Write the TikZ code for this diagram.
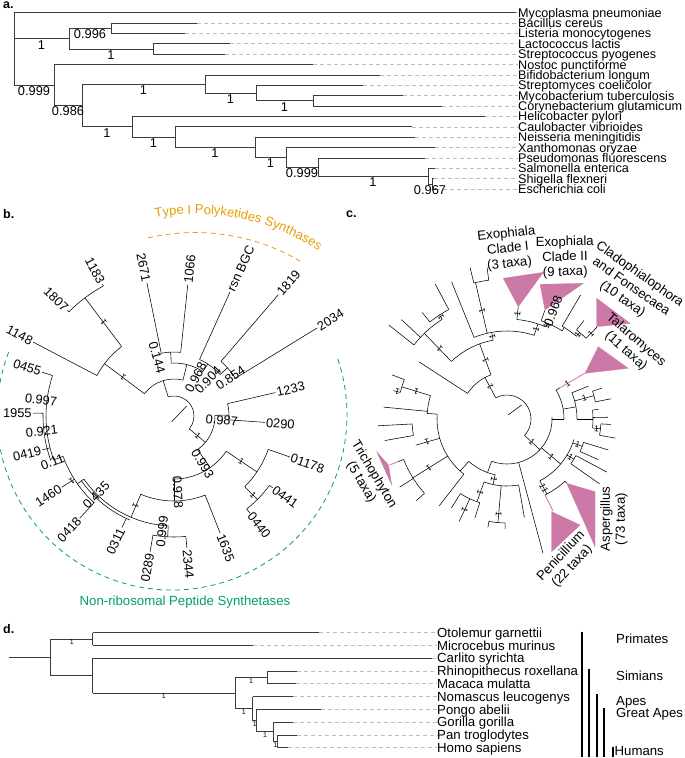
\documentclass[tikz,border=0pt]{standalone}
\usepackage{fontspec}
\setmainfont{Liberation Sans}
\usetikzlibrary{decorations.text}
\definecolor{pksorange}{HTML}{E69F00}
\definecolor{nrpsgreen}{HTML}{009E73}
\definecolor{clpink}{HTML}{CC79A7}
\definecolor{treegray}{HTML}{3C3C3C}
\definecolor{dashgray}{HTML}{BDBDBD}
\tikzset{
  tl/.style={treegray, line width=0.65pt},
  dl/.style={dashgray, line width=0.6pt, dash pattern=on 4pt off 3pt},
  bl/.style={black, line width=0.55pt},
  taxon/.style={anchor=west, inner sep=0pt, text height=9pt, text depth=0pt, font=\fontsize{12.6}{12.6}\selectfont},
  dtaxon/.style={anchor=west, inner sep=0pt, text height=9.4pt, text depth=0pt, font=\fontsize{13.2}{13.2}\selectfont},
  suplab/.style={anchor=north, inner sep=0pt, font=\fontsize{12.8}{12.8}\selectfont},
  dsup/.style={anchor=north, inner sep=0pt, font=\fontsize{7}{7}\selectfont},
  panel/.style={anchor=base west, inner sep=0pt, font=\bfseries\fontsize{12.5}{12.5}\selectfont},
  bR/.style={anchor=west, inner sep=1.2pt, text height=9.2pt, text depth=0pt, font=\fontsize{12.8}{12.8}\selectfont},
  bL/.style={anchor=east, inner sep=1.2pt, text height=9.2pt, text depth=0pt, font=\fontsize{12.8}{12.8}\selectfont},
  bsup/.style={inner sep=0pt, text height=9.2pt, text depth=0pt, font=\fontsize{12.8}{12.8}\selectfont},
  onetick/.style={inner sep=0pt, font=\fontsize{8.5}{8.5}\selectfont},
  clade/.style={align=center, inner sep=0pt, font=\fontsize{13.2}{15}\selectfont},
  tri/.style={fill=clpink, draw=clpink, line width=0.3pt},
  pinkl/.style={clpink, line width=0.8pt},
  cladebar/.style={black, line width=1.8pt},
}
\begin{document}
\begin{tikzpicture}[x=1pt,y=-1pt]
\useasboundingbox (0,0) rectangle (685,758);

% ================= Panel a =================
\node[panel] (pa) at (3,8.5) {a.};
\foreach \i/\y/\t/\lab in {
 0/12.6/516/Mycoplasma pneumoniae,
 1/23.0/197/Bacillus cereus,
 2/33.4/185/Listeria monocytogenes,
 3/43.7/230/Lactococcus lactis,
 4/54.1/225/Streptococcus pyogenes,
 5/64.5/313/Nostoc punctiforme,
 6/74.9/380/Bifidobacterium longum,
 7/85.3/363/Streptomyces coelicolor,
 8/95.6/403/Mycobacterium tuberculosis,
 9/106.0/442/Corynebacterium glutamicum,
 10/116.4/485/Helicobacter pylori,
 11/126.8/412/Caulobacter vibrioides,
 12/137.2/415/Neisseria meningitidis,
 13/147.5/435/Xanthomonas oryzae,
 14/157.9/425/Pseudomonas fluorescens,
 15/168.3/435/Salmonella enterica,
 16/178.7/434/Shigella flexneri,
 17/189.1/436/Escherichia coli}{
 \node[taxon] (ta\i) at (518,\y) {\lab};
 \coordinate (tipa\i) at (\t,\y);
 \draw[dl] (tipa\i) -- (ta\i.west);
}
\foreach \x/\ya/\yb in {14/12.6/84.9, 69/28.2/48.9, 111/23.0/33.4, 153/43.7/54.1,
  54/64.5/105.35, 82/84.0/126.7, 205/74.9/93.05, 256/85.3/100.8, 313/95.6/106.0,
  132/116.4/137.0, 175/126.8/147.2, 255/137.2/157.25, 286/147.5/167.0,
  318/157.9/176.1, 428/168.3/183.9, 432/178.7/189.1}
  \draw[tl] (\x,\ya) -- (\x,\yb);
\foreach \xa/\xb/\y in {14/516/12.6, 14/69/38.55, 69/111/28.2, 111/197/23.0, 111/185/33.4,
  69/153/48.9, 153/230/43.7, 153/225/54.1, 14/54/84.9, 54/313/64.5, 54/82/105.35,
  82/205/84.0, 205/380/74.9, 205/256/93.05, 256/363/85.3, 256/313/100.8,
  313/403/95.6, 313/442/106.0, 82/132/126.7, 132/485/116.4, 132/175/137.0,
  175/412/126.8, 175/255/147.2, 255/415/137.2, 255/286/157.25, 286/435/147.5,
  286/318/167.0, 318/425/157.9, 318/428/176.1, 428/435/168.3, 428/432/183.9,
  432/434/178.7, 432/436/189.1}
  \draw[tl] (\xa,\y) -- (\xb,\y);
\foreach \x/\y/\s [count=\k] in {41.5/38.55/1, 90/28.2/0.996, 111/48.9/1, 34/84.9/0.999,
  68/105.35/0.986, 143.5/84.0/1, 230.5/93.05/1, 284.5/100.8/1, 107/126.7/1,
  153.5/137.0/1, 215/147.2/1, 270.5/157.25/1, 302/167.0/0.999, 373/176.1/1,
  430/183.9/0.967}
  \node[suplab] (sa\k) at (\x,\y+1.5) {\s};

% ================= Panel b =================
\node[panel] (pb) at (3,218) {b.};
\begin{scope}[shift={(195,440)}, x=1pt, y=1pt]
  \draw[pksorange, line width=0.8pt, dash pattern=on 5pt off 4pt] (103.1:207.5) arc[start angle=103.1, end angle=59.6, radius=207.5];
  \path[decorate, decoration={text along path, text align=center,
     text={|\fontsize{13}{14}\selectfont\color{pksorange}|Type I Polyketides Synthases}}]
     (103:226) arc[start angle=103, end angle=54, radius=226];
\end{scope}
\begin{scope}[shift={(172,415)}, x=1pt, y=1pt]
  \draw[nrpsgreen, line width=0.8pt, dash pattern=on 5pt off 4pt] (159:175) arc[start angle=159, end angle=379.5, radius=175];
\end{scope}
\node[text=nrpsgreen, inner sep=0pt, font=\fontsize{13.2}{13.2}\selectfont] (nrps) at (185,602) {Non-ribosomal Peptide Synthetases};

\begin{scope}[shift={(174,416)}, x=1pt, y=1pt]
  \draw[bl] (-2.3,-5.7) -- (12.7,10);
  \foreach \a/\ri/\ro in {107/20/37, 143/37/87, 127/87/148, 118.5/148/150, 135.3/148/150,
    152.3/87/159, 76/37/53, 93/53/64, 101.5/64/136, 84/64/132, 57/53/62, 65.7/62/136,
    42/62/72, 49.3/72/160, 31.6/72/168, -40/20/41, 1/41/55, 13/55/104, -4/55/91,
    -55/41/63, -34/63/100, -19.5/100/123, -45/100/118, -36/118/122, -52/118/123,
    270/63/85, 291.5/85/126, 247/85/110, 245/113/123, 267/110/121, 260/121/138,
    275.6/121/133, 215/110/118, 227.3/118/139, 212.4/118/133, 200/118/128,
    161.6/128/139, 194.4/128/136, 178.8/131/141}
    \draw[bl] (\a:\ri) -- (\a:\ro);
  \foreach \r/\aa/\ab in {20/107/-40, 37/143/76, 87/127/152.3, 148/118.5/135.3,
    53/93/57, 64/101.5/84, 62/65.7/42, 72/49.3/31.6, 41/1/-55, 55/13/-4, 63/-34/-90,
    100/-19.5/-45, 118/-36/-52, 85/247/291.5, 110/215/267, 113/215/247,
    121/260/275.6, 118/200/227.3, 128/161.6/200, 131/178.8/200}
    \draw[bl] (\aa:\r) arc[start angle=\aa, end angle=\ab, radius=\r];
  \foreach \a/\r/\t [count=\k] in {84/132/1066, 65.7/136/rsn BGC, 49.3/160/1819,
    31.6/168/2034, 13/104/1233, -4/91/0290, -19.5/123/01178, -36/122/0441,
    -52/123/0440, -68.5/126/1635, -84.4/133/2344}
    \node[bR, rotate=\a] (bR\k) at (\a:\r) {\t};
  \foreach \a/\r/\t [count=\k] in {101.5/136/2671, 118.5/150/1183, 135.3/150/1807,
    152.3/159/1148, 161.6/139/0455, 178.8/141/1955, 194.4/136/0419, 212.4/133/1460,
    227.3/139/0418, 245/123/0311, 260/138/0289}
    \node[bL, rotate=\a-180] (bL\k) at (\a:\r) {\t};
  \foreach \a/\r/\rot/\s [count=\k] in {106/61/-74/0.144, 60.8/44/62/0.968,
    46.6/49.5/46.6/0.904, 34/68/34/0.854, -5/48/-5/0.987, -59/56/-59/0.993,
    -87/76/-87/0.978, 264/116/84/0.999, 225.4/111/45.4/0.435, 200.7/130/20.7/0.11,
    186.5/133/6.5/0.921, 173/134/-7/0.997}
    \node[bsup, rotate=\rot] (bs\k) at (\a:\r) {\s};
  \foreach \a/\r [count=\k] in {127/117, 143/64, 212.4/121, 247/98, -40/31, -34/81, -45/112}
    \node[onetick, rotate=\a] (bt\k) at (\a:\r) {1};
\end{scope}

% ================= Panel c =================
\node[panel] (pc) at (346,217) {c.};
\fill[tri] (518.3,306.7) -- (503.3,278.3) -- (543.3,272.3) -- cycle;
\fill[tri] (545,310) -- (540,284.3) -- (583.3,283.3) -- cycle;
\fill[tri] (596.7,326.7) -- (596.7,298.3) -- (630,323.3) -- cycle;
\fill[tri] (585,373.3) -- (598.3,346.7) -- (628.3,368.3) -- cycle;
\fill[tri] (551.7,511.7) -- (580,525) -- (551.7,551.7) -- cycle;
\fill[tri] (566.7,483.3) -- (595,491.7) -- (595,546.7) -- cycle;
\fill[tri] (376.7,451.7) -- (391.7,485) -- (388.5,465) -- cycle;

\begin{scope}[shift={(507,419)}, x=1pt, y=1pt]
  \draw[bl] (1,4) -- (14.7,14);
  \foreach \a/\ri/\ro in {118/24/47, 147/47/105, 110/47/80, 134/80/119, 141.5/119/151,
    136.7/119/145, 123/119/124, 118/124/153, 128.5/124/136, 100/80/88, 112/88/148,
    103/88/140, 103.7/140/156, 97.5/140/153, 72/88/100, 84.3/100/112.6, 67/100/104,
    70.8/104/115, 58/104/108, 59.3/108/144, 50/108/113, 52/113/125, 45.6/113/128.7,
    -43/24/45, 0/45/57, 30.5/57/62, 10/57/70, 22/70/88, 15/70/90, 18/90/100, 11/90/106,
    0/70/86, 6/86/92, 1/86/101, -6/86/94, -3/94/104, -10/94/110,
    -40/45/70, -20/70/80, -17/80/106, -24/80/100, -31/70/78, -28/78/113, -35/78/113,
    -62/70/85, -47/85/87.7, -75/45/139,
    250/45/57, 258/57/67, 280/67/100, 265/67/104, 260/104/110, 269/104/110,
    250/67/88, 252/88/104, 245/88/113, 238/88/105, 228/57/70, 232/70/110,
    212/70/111, 222/111/122, 212.4/111/127, 201.4/111/117, 196/70/95, 183/95/129,
    190/95/124, 176/70/80, 174.5/80/124, 163/80/110, 159/110/123, 166/110/117}
    \draw[bl] (\a:\ri) -- (\a:\ro);
  \foreach \r/\aa/\ab in {24/118/-43, 47/147/110, 80/134/100, 119/141.5/123,
    124/128.5/118, 88/112/72, 140/103.7/97.5, 100/84.3/67, 104/70.8/58, 108/59.3/50,
    113/52/45.6, 45/2/-110, 57/30.5/0, 70/22/0, 90/18/11, 86/6/-6, 94/-3/-10,
    70/-17/-62, 80/-17/-24, 78/-28/-35, 85/-47/-63.4, 57/258/228, 67/250/280,
    104/260/269, 88/238/252, 70/232/176, 111/201.4/222, 95/183/190, 80/176/163,
    110/159/166}
    \draw[bl] (\aa:\r) arc[start angle=\aa, end angle=\ab, radius=\r];
  \draw[pinkl] (30.5:62) -- (30.5:90.4);
  \draw[pinkl] (-63.4:85) -- (-63.4:103);
  \draw[pinkl] (201.4:117) -- (201.4:126);
  \foreach \a/\r [count=\k] in {118/36, 110/63, 134/97, 123/121.5, 103/111, 84.3/106,
    67/101, 50/110, 45.6/120, -43/34, 30.5/70, 15/80, -6/90, -40/58, -20/75, -31/74,
    -62/76, -62/81, 258/62, 265/95, 250/78, 245/100, 212/92, 196/83, 163/95, 166/113,
    72/94, 100/84}
    \node[onetick, rotate=\a] (ct\k) at (\a:\r) {1};
\end{scope}
\node[bsup, rotate=70] (cs1) at (553,311) {0.968};
\node[clade, rotate=6] (cl1) at (508,249) {Exophiala\\Clade I\\(3 taxa)};
\node[clade, rotate=1] (cl2) at (565,257.5) {Exophiala\\Clade II\\(9 taxa)};
\node[clade, rotate=-35] (cl3) at (631,287) {Cladophialophora\\and Fonsecaea\\(10 taxa)};
\node[clade, rotate=-41.5] (cl4) at (631,345.7) {Talaromyces\\(11 taxa)};
\node[clade, rotate=-59] (cl5) at (367.5,478.3) {Trichophyton\\(5 taxa)};
\node[clade, rotate=47] (cl6) at (566.7,561.2) {Penicillium\\(22 taxa)};
\node[clade, rotate=90] (cl7) at (614,519) {Aspergillus\\(73 taxa)};

% ================= Panel d =================
\node[panel] (pd) at (3,633) {d.};
\foreach \i/\y/\t/\lab in {
 0/632.5/319/Otolemur garnettii,
 1/645.3/253/Microcebus murinus,
 2/658.1/432/Carlito syrichta,
 3/670.9/297/Rhinopithecus roxellana,
 4/683.7/296/Macaca mulatta,
 5/696.5/293/Nomascus leucogenys,
 6/709.3/320.7/Pongo abelii,
 7/722.1/292.7/Gorilla gorilla,
 8/734.9/296.7/Pan troglodytes,
 9/747.7/288.3/Homo sapiens}{
 \node[dtaxon] (td\i) at (437,\y) {\lab};
 \coordinate (tipd\i) at (\t,\y);
 \draw[dl] (tipd\i) -- (td\i.west);
}
\foreach \x/\ya/\yb in {50.7/638.9/675.5, 92.7/632.5/645.3, 92.7/658.1/692.9,
  235/677.3/708.5, 267.3/670.9/683.7, 252.7/696.5/720.5, 256.7/709.3/731.7,
  273.3/722.1/741.3, 277.3/734.9/747.7}
  \draw[tl] (\x,\ya) -- (\x,\yb);
\foreach \xa/\xb/\y in {9/50.7/657.2, 50.7/92.7/638.9, 92.7/319/632.5, 92.7/253/645.3,
  50.7/92.7/675.5, 92.7/432/658.1, 92.7/235/692.9, 235/267.3/677.3, 267.3/297/670.9,
  267.3/296/683.7, 235/252.7/708.5, 252.7/293/696.5, 252.7/256.7/720.5,
  256.7/320.7/709.3, 256.7/273.3/731.7, 273.3/292.7/722.1, 273.3/277.3/741.3,
  277.3/296.7/734.9, 277.3/288.3/747.7}
  \draw[tl] (\xa,\y) -- (\xb,\y);
\foreach \x/\y [count=\k] in {71.7/638.9, 163.9/692.9, 251/677.3, 243.9/708.5,
  254.7/720.5, 265/731.7, 275.3/741.3}
  \node[dsup] (sd\k) at (\x,\y+0.8) {1};
\foreach \x/\ya/\yb [count=\k] in {581.7/631.7/756.7, 589/669/756.7, 596.7/694/756.7,
  604/708.3/756.7, 612.7/746.7/756.7}
  \draw[cladebar] (\x,\ya) -- (\x,\yb);
\foreach \x/\y/\lab [count=\k] in {616/643.5/Primates, 616/680.5/Simians, 616/705.5/Apes,
  616/717.8/Great Apes, 614.5/755.5/Humans}
  \node[anchor=base west, inner sep=0pt, font=\fontsize{13.2}{13.2}\selectfont] (cb\k) at (\x,\y) {\lab};
\end{tikzpicture}
\end{document}
